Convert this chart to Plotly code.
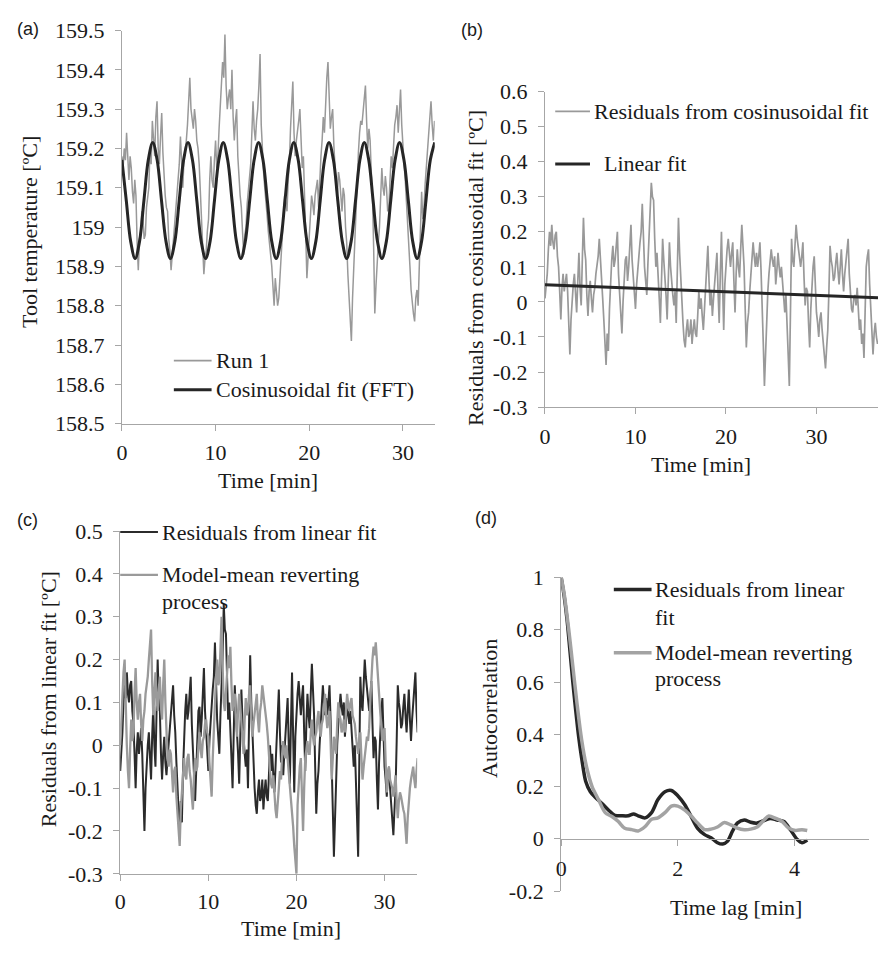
import plotly.graph_objects as go

W, H = 878, 954
SAMPLE_INTERVAL_MIN = 0.125

# ---------------- (a) Tool temperature, Run 1 and cosinusoidal fit ----------------
run1_temp = [
    159.18, 159.15, 159.20, 159.17, 159.24, 159.16, 159.12, 159.18, 159.15, 159.09, 159.06, 159.12, 159.08, 158.96, 158.89, 158.97,
    158.99, 159.04, 159.02, 158.97, 158.98, 159.05, 159.07, 159.10, 159.20, 159.16, 159.27, 159.21, 159.18, 159.28, 159.32, 159.20,
    159.16, 159.23, 159.29, 159.19, 159.13, 159.08, 159.05, 159.04, 158.97, 158.94, 158.89, 158.93, 158.96, 158.99, 159.04, 159.09,
    159.12, 159.16, 159.23, 159.14, 159.10, 159.17, 159.19, 159.22, 159.26, 159.31, 159.38, 159.30, 159.28, 159.25, 159.30, 159.27,
    159.22, 159.20, 159.16, 159.09, 159.03, 158.97, 158.88, 158.92, 158.94, 158.99, 159.02, 159.12, 159.18, 159.12, 159.10, 159.17,
    159.22, 159.15, 159.18, 159.25, 159.30, 159.36, 159.42, 159.38, 159.49, 159.36, 159.30, 159.33, 159.35, 159.30, 159.40, 159.28,
    159.22, 159.27, 159.30, 159.18, 159.12, 159.08, 159.05, 158.98, 158.93, 158.98, 159.00, 159.06, 159.10, 159.12, 159.16, 159.24,
    159.32, 159.25, 159.22, 159.27, 159.30, 159.36, 159.44, 159.26, 159.19, 159.14, 159.10, 159.07, 159.03, 158.99, 158.95, 158.93,
    158.90, 158.85, 158.80, 158.87, 158.84, 158.80, 158.82, 158.88, 158.92, 158.97, 159.03, 159.08, 159.06, 159.04, 159.12, 159.16,
    159.25, 159.30, 159.37, 159.24, 159.18, 159.22, 159.24, 159.27, 159.30, 159.20, 159.15, 159.18, 159.10, 158.98, 158.87, 158.92,
    158.95, 159.03, 159.08, 159.06, 159.03, 159.08, 159.10, 159.12, 159.05, 159.13, 159.18, 159.22, 159.28, 159.24, 159.33, 159.38,
    159.42, 159.30, 159.25, 159.28, 159.30, 159.21, 159.15, 159.10, 159.08, 159.14, 159.12, 159.07, 159.04, 159.10, 159.08, 159.00,
    158.96, 158.88, 158.82, 158.76, 158.71, 158.82, 158.90, 158.98, 159.05, 159.12, 159.19, 159.24, 159.27, 159.26, 159.30, 159.33,
    159.36, 159.27, 159.20, 159.25, 159.22, 159.14, 159.08, 158.95, 158.78, 158.85, 158.92, 158.96, 159.00, 159.08, 159.15, 159.10,
    159.08, 159.13, 159.10, 159.04, 159.05, 159.12, 159.18, 159.15, 159.22, 159.26, 159.28, 159.31, 159.24, 159.29, 159.35, 159.26,
    159.20, 159.16, 159.12, 159.07, 159.03, 158.97, 158.90, 158.84, 158.80, 158.78, 158.76, 158.82, 158.84, 158.80, 158.90, 159.01,
    159.09, 159.02, 159.05, 159.11, 159.15, 159.19, 159.23, 159.27, 159.32, 159.26, 159.22, 159.27, 159.26,
]
run1_time = [i * SAMPLE_INTERVAL_MIN for i in range(len(run1_temp))]

cosfit_time = [
    0.0, 0.47, 0.94, 1.41, 1.88, 2.35, 2.82, 3.29, 3.76, 4.23, 4.71, 5.18,
    5.65, 6.12, 6.59, 7.06, 7.53, 8.0, 8.47, 8.94, 9.41, 9.88, 10.35, 10.82,
    11.29, 11.76, 12.23, 12.7, 13.17, 13.64, 14.12, 14.59, 15.06, 15.53, 16.0, 16.47,
    16.94, 17.41, 17.88, 18.35, 18.82, 19.29, 19.76, 20.23, 20.7, 21.17, 21.64, 22.11,
    22.58, 23.05, 23.53, 24.0, 24.47, 24.94, 25.41, 25.88, 26.35, 26.82, 27.29, 27.76,
    28.23, 28.7, 29.17, 29.64, 30.11, 30.58, 31.05, 31.52, 31.99, 32.46, 32.93, 33.4,
]
cosfit_temp = [
    159.171, 159.067, 158.963, 158.92, 158.963, 159.067, 159.171, 159.215,
    159.171, 159.067, 158.963, 158.92, 158.963, 159.067, 159.171, 159.215,
    159.171, 159.067, 158.963, 158.92, 158.963, 159.067, 159.171, 159.215,
    159.171, 159.067, 158.963, 158.92, 158.963, 159.067, 159.171, 159.215,
    159.171, 159.067, 158.963, 158.92, 158.963, 159.067, 159.171, 159.215,
    159.171, 159.067, 158.963, 158.92, 158.963, 159.067, 159.171, 159.215,
    159.171, 159.067, 158.963, 158.92, 158.963, 159.067, 159.171, 159.215,
    159.171, 159.067, 158.963, 158.92, 158.963, 159.067, 159.171, 159.215,
    159.171, 159.067, 158.963, 158.92, 158.963, 159.067, 159.171, 159.215,
]

# ---------------- (b) Residuals from cosinusoidal fit + linear fit ----------------
resid_cos = [
    0.01, 0.05, 0.08, 0.15, 0.20, 0.16, 0.22, 0.17, 0.15, 0.19, 0.20, 0.13, 0.10, 0.03, -0.05, 0.04,
    0.08, 0.03, 0.06, 0.08, 0.03, -0.06, -0.15, -0.05, 0.01, 0.05, 0.08, 0.02, -0.03, 0.06, 0.14, 0.04,
    -0.01, 0.12, 0.24, 0.15, 0.12, 0.02, -0.04, 0.03, 0.06, 0.01, -0.03, 0.02, 0.04, 0.08, 0.10, 0.13,
    0.18, 0.11, 0.07, 0.01, -0.05, -0.10, -0.18, -0.09, -0.14, -0.02, 0.08, 0.12, 0.16, 0.10, 0.12, 0.17,
    0.20, 0.08, 0.01, -0.03, -0.09, 0.00, 0.08, 0.12, 0.13, 0.06, 0.10, 0.17, 0.22, 0.12, 0.08, 0.02,
    -0.02, 0.05, 0.08, 0.13, 0.17, 0.20, 0.28, 0.18, 0.10, 0.06, 0.02, 0.11, 0.18, 0.24, 0.34, 0.30,
    0.29, 0.18, 0.10, 0.14, 0.05, 0.01, -0.06, 0.08, 0.18, 0.12, 0.08, 0.02, -0.05, 0.08, 0.17, 0.10,
    0.05, 0.02, -0.01, 0.03, -0.06, 0.10, 0.24, 0.14, 0.06, -0.01, -0.06, -0.11, -0.13, -0.08, -0.05, -0.10,
    -0.09, -0.05, -0.12, -0.08, -0.05, -0.09, -0.10, -0.04, 0.03, -0.02, 0.01, -0.04, -0.08, -0.02, 0.04, 0.09,
    0.16, 0.06, -0.01, 0.03, -0.04, 0.01, 0.05, 0.09, 0.14, 0.03, -0.06, 0.08, 0.20, 0.05, -0.08, 0.05,
    0.12, 0.15, 0.18, 0.13, 0.10, 0.14, 0.17, 0.06, -0.03, 0.08, 0.15, 0.10, 0.07, 0.15, 0.22, 0.16,
    0.10, -0.02, -0.13, -0.06, -0.03, 0.03, 0.08, 0.12, 0.17, 0.13, 0.10, 0.14, 0.10, 0.13, 0.17, 0.09,
    0.01, -0.12, -0.24, -0.14, -0.03, 0.03, 0.08, 0.12, 0.15, 0.12, 0.10, 0.13, 0.05, 0.09, 0.14, 0.10,
    0.07, 0.10, 0.05, 0.01, -0.03, 0.02, -0.10, -0.15, -0.24, -0.02, 0.18, 0.12, 0.10, 0.16, 0.22, 0.18,
    0.15, 0.11, 0.10, 0.13, 0.17, 0.07, -0.01, 0.04, 0.03, -0.06, -0.13, -0.02, 0.06, 0.10, 0.13, 0.04,
    -0.03, -0.06, -0.10, -0.05, -0.03, -0.08, -0.12, -0.16, -0.19, -0.13, -0.08, 0.03, 0.16, 0.12, 0.10, 0.06,
    0.07, 0.11, 0.14, 0.09, 0.05, 0.10, 0.15, 0.08, 0.03, 0.08, 0.12, 0.15, 0.18, 0.08, 0.01, -0.02,
    -0.03, 0.01, 0.02, -0.01, 0.04, -0.03, -0.08, -0.05, -0.12, -0.09, -0.16, -0.03, 0.10, 0.13, 0.15, 0.05,
    -0.03, -0.10, -0.15, -0.09, -0.06, -0.10, -0.12,
]
resid_cos_time = [i * SAMPLE_INTERVAL_MIN for i in range(len(resid_cos))]
linfit_time = [0.0, 36.8]
linfit_val = [0.049, 0.012]

# ---------------- (c) Residuals from linear fit + mean-reverting model ----------------
resid_lin = [
    -0.06, -0.02, 0.03, 0.10, 0.15, 0.11, 0.17, 0.12, 0.10, 0.14, 0.15, 0.08, 0.05, -0.02, -0.10, -0.01,
    0.03, -0.02, 0.01, 0.04, -0.02, -0.11, -0.20, -0.10, -0.04, 0.00, 0.03, -0.03, -0.08, 0.02, 0.09, 0.00,
    -0.05, 0.08, 0.20, 0.11, 0.08, -0.02, -0.08, -0.02, 0.02, -0.04, -0.07, -0.03, 0.00, 0.04, 0.06, 0.09,
    0.14, 0.07, 0.03, -0.04, -0.09, -0.14, -0.21, -0.13, -0.18, -0.06, 0.04, 0.08, 0.12, 0.06, 0.08, 0.13,
    0.16, 0.05, -0.03, -0.07, -0.13, -0.04, 0.04, 0.08, 0.09, 0.02, 0.06, 0.13, 0.18, 0.08, 0.04, -0.02,
    -0.06, 0.01, 0.04, 0.09, 0.13, 0.16, 0.24, 0.14, 0.06, 0.02, -0.02, 0.07, 0.14, 0.21, 0.33, 0.27,
    0.26, 0.14, 0.06, 0.10, 0.01, -0.03, -0.10, 0.04, 0.14, 0.08, 0.04, -0.02, -0.09, 0.04, 0.13, 0.06,
    0.01, -0.02, -0.05, -0.01, -0.10, 0.06, 0.21, 0.10, 0.02, -0.05, -0.10, -0.14, -0.16, -0.11, -0.08, -0.13,
    -0.12, -0.08, -0.15, -0.11, -0.08, -0.12, -0.13, -0.07, 0.00, -0.06, -0.02, -0.07, -0.11, -0.05, 0.01, 0.06,
    0.13, 0.03, -0.04, 0.00, -0.07, -0.02, 0.02, 0.06, 0.11, 0.00, -0.09, 0.05, 0.17, 0.02, -0.11, 0.02,
    0.09, 0.12, 0.15, 0.10, 0.07, 0.11, 0.14, 0.03, -0.06, 0.05, 0.12, 0.07, 0.04, 0.12, 0.19, 0.13,
    0.07, -0.05, -0.16, -0.09, -0.06, 0.00, 0.05, 0.09, 0.14, 0.10, 0.07, 0.11, 0.07, 0.10, 0.14, 0.06,
    -0.02, -0.15, -0.26, -0.16, -0.06, 0.00, 0.05, 0.09, 0.12, 0.09, 0.07, 0.10, 0.02, 0.06, 0.11, 0.07,
    0.05, 0.08, 0.03, -0.01, -0.05, 0.00, -0.12, -0.17, -0.26, -0.04, 0.16, 0.10, 0.08, 0.14, 0.20, 0.16,
    0.13, 0.09, 0.08, 0.11, 0.15, 0.05, -0.03, 0.02, 0.01, -0.08, -0.15, -0.04, 0.04, 0.08, 0.11, 0.02,
    -0.05, -0.08, -0.12, -0.07, -0.05, -0.10, -0.14, -0.18, -0.21, -0.15, -0.10, 0.01, 0.14, 0.10, 0.08, 0.04,
    0.05, 0.09, 0.12, 0.07, 0.03, 0.08, 0.13, 0.06, 0.01, 0.06, 0.10, 0.13, 0.17, 0.08, 0.03,
]
model_mr = [
    0.00, 0.07, 0.12, 0.17, 0.20, 0.08, 0.00, -0.06, -0.10, -0.01, 0.06, 0.01, 0.03, 0.12, 0.18, 0.10,
    0.06, 0.10, 0.12, 0.05, 0.01, 0.06, 0.08, 0.12, 0.14, 0.16, 0.20, 0.23, 0.27, 0.15, 0.07, 0.12,
    0.17, 0.11, 0.08, 0.13, 0.16, 0.09, 0.06, 0.14, 0.20, 0.10, 0.02, -0.03, -0.05, -0.01, -0.02, -0.08,
    -0.11, -0.06, -0.05, -0.12, -0.16, -0.19, -0.235, -0.15, -0.10, -0.05, -0.03, -0.07, -0.08, -0.03, -0.02, -0.06,
    -0.08, -0.12, -0.15, -0.07, -0.03, -0.06, -0.05, 0.00, 0.03, -0.01, -0.03, 0.01, 0.02, 0.05, 0.06, 0.03,
    0.02, -0.04, -0.08, -0.12, -0.03, 0.05, 0.12, 0.16, 0.20, 0.14, 0.15, 0.24, 0.30, 0.18, 0.10, 0.08,
    0.12, 0.17, 0.21, 0.18, 0.23, 0.14, 0.08, 0.11, 0.12, 0.06, 0.02, 0.08, 0.12, 0.09, 0.06, 0.01,
    -0.02, 0.06, 0.11, 0.07, 0.08, 0.12, 0.14, 0.06, 0.02, 0.05, 0.07, 0.10, 0.12, 0.06, 0.03, 0.08,
    0.10, 0.14, 0.12, 0.09, 0.08, 0.05, 0.02, -0.03, -0.06, -0.09, -0.10, -0.07, -0.12, -0.15, -0.17, -0.12,
    -0.10, -0.06, -0.08, -0.02, 0.01, -0.02, -0.03, 0.00, -0.03, -0.07, -0.11, -0.12, -0.16, -0.19, -0.235, -0.26,
    -0.30, -0.14, -0.08, -0.05, -0.03, -0.12, -0.20, -0.10, -0.03, -0.01, 0.01, -0.02, -0.02, 0.03, 0.06, 0.02,
    0.00, 0.02, 0.03, 0.06, 0.08, 0.04, 0.02, 0.05, 0.06, 0.09, 0.12, 0.07, 0.04, 0.06, 0.08, 0.01,
    -0.08, -0.03, 0.02, 0.00, -0.02, 0.05, 0.10, 0.07, 0.06, 0.03, 0.04, 0.06, 0.03, 0.08, 0.12, 0.09,
    0.08, 0.10, 0.11, 0.07, 0.06, 0.05, 0.02, -0.01, -0.02, 0.01, 0.03, -0.03, -0.08, -0.05, -0.03, 0.00,
    0.02, 0.01, 0.04, 0.10, 0.16, 0.20, 0.23, 0.21, 0.24, 0.19, 0.16, 0.12, 0.08, 0.04, 0.01, 0.03,
    0.04, -0.04, -0.11, -0.07, -0.05, -0.08, -0.09, -0.10, -0.12, -0.09, -0.07, -0.13, -0.17, -0.13, -0.11, -0.12,
    -0.14, -0.15, -0.16, -0.20, -0.23, -0.17, -0.12, -0.10, -0.08, -0.06, -0.05, -0.08, -0.10, -0.06, -0.03,
]
resid_lin_time = [i * SAMPLE_INTERVAL_MIN for i in range(len(resid_lin))]
model_mr_time = [i * SAMPLE_INTERVAL_MIN for i in range(len(model_mr))]

# ---------------- (d) Autocorrelation ----------------
acf_resid_lag = [0, 0.05, 0.1, 0.15, 0.2, 0.25, 0.3, 0.35, 0.42, 0.5, 0.58, 0.7, 0.81, 0.92,
                 1.04, 1.15, 1.24, 1.32, 1.44, 1.55, 1.66, 1.78, 1.89, 2.0, 2.12, 2.23, 2.34,
                 2.46, 2.57, 2.68, 2.77, 2.85, 2.94, 3.02, 3.14, 3.25, 3.36, 3.48, 3.59, 3.70,
                 3.82, 3.93, 4.05, 4.13, 4.22]
acf_resid = [1.0, 0.93, 0.84, 0.72, 0.6, 0.49, 0.39, 0.31, 0.22, 0.18, 0.16, 0.135, 0.11, 0.09,
             0.088, 0.088, 0.095, 0.088, 0.08, 0.10, 0.15, 0.18, 0.185, 0.165, 0.13, 0.085, 0.04,
             0.016, 0.004, -0.015, -0.02, -0.01, 0.03, 0.06, 0.072, 0.063, 0.06, 0.07, 0.078, 0.072,
             0.066, 0.035, -0.003, -0.015, -0.005]
acf_model_lag = [0, 0.05, 0.13, 0.2, 0.27, 0.35, 0.44, 0.53, 0.64, 0.755, 0.87, 0.98, 1.09, 1.21,
                 1.32, 1.44, 1.55, 1.66, 1.78, 1.89, 2.0, 2.12, 2.23, 2.34, 2.46, 2.57, 2.68, 2.8,
                 2.91, 3.02, 3.14, 3.25, 3.36, 3.48, 3.56, 3.68, 3.79, 3.9, 4.02, 4.13, 4.22]
acf_model = [1.0, 0.94, 0.80, 0.66, 0.52, 0.38, 0.27, 0.2, 0.15, 0.10, 0.085, 0.066, 0.04, 0.035,
             0.03, 0.047, 0.075, 0.08, 0.1, 0.125, 0.125, 0.11, 0.087, 0.06, 0.035, 0.037, 0.045,
             0.062, 0.053, 0.041, 0.035, 0.037, 0.045, 0.072, 0.087, 0.078, 0.066, 0.041, 0.032,
             0.035, 0.032]

# ---------------- tick labels ----------------
a_yticks = [158.5, 158.6, 158.7, 158.8, 158.9, 159.0, 159.1, 159.2, 159.3, 159.4, 159.5]
a_yticktext = ["158.5", "158.6", "158.7", "158.8", "158.9", "159", "159.1", "159.2", "159.3", "159.4", "159.5"]
time_ticks = [0, 10, 20, 30]
time_ticktext = ["0", "10", "20", "30"]
b_yticks = [-0.3, -0.2, -0.1, 0, 0.1, 0.2, 0.3, 0.4, 0.5, 0.6]
b_yticktext = ["-0.3", "-0.2", "-0.1", "0", "0.1", "0.2", "0.3", "0.4", "0.5", "0.6"]
c_yticks = [-0.3, -0.2, -0.1, 0, 0.1, 0.2, 0.3, 0.4, 0.5]
c_yticktext = ["-0.3", "-0.2", "-0.1", "0", "0.1", "0.2", "0.3", "0.4", "0.5"]
d_yticks = [-0.2, 0, 0.2, 0.4, 0.6, 0.8, 1.0]
d_yticktext = ["-0.2", "0", "0.2", "0.4", "0.6", "0.8", "1"]
d_xticks = [0, 2, 4]
d_xticktext = ["0", "2", "4"]

# ---------------- styling ----------------
SERIF = "Liberation Serif"
SANS = "Liberation Sans"
FS = 22
TXT = "#1a1a1a"
AXC = "#a6a6a6"
DARK = "#262626"
GREY = "#999999"


def px_x(x):
    return x / W


def px_y(y):
    return 1 - y / H


fig = go.Figure()

# (a)
fig.add_trace(go.Scatter(x=run1_time, y=run1_temp, mode="lines", line=dict(color=GREY, width=1.5),
                         xaxis="x", yaxis="y"))
fig.add_trace(go.Scatter(x=cosfit_time, y=cosfit_temp, mode="lines",
                         line=dict(color=DARK, width=3, shape="spline", smoothing=1.0), xaxis="x", yaxis="y"))
# (b)
fig.add_trace(go.Scatter(x=resid_cos_time, y=resid_cos, mode="lines", line=dict(color=GREY, width=1.7),
                         xaxis="x2", yaxis="y2"))
fig.add_trace(go.Scatter(x=linfit_time, y=linfit_val, mode="lines", line=dict(color=DARK, width=3),
                         xaxis="x2", yaxis="y2"))
# (c)
fig.add_trace(go.Scatter(x=resid_lin_time, y=resid_lin, mode="lines", line=dict(color="#2b2b2b", width=2),
                         xaxis="x3", yaxis="y3"))
fig.add_trace(go.Scatter(x=model_mr_time, y=model_mr, mode="lines", line=dict(color="#9a9a9a", width=2.3),
                         xaxis="x3", yaxis="y3"))
# (d)
fig.add_trace(go.Scatter(x=acf_resid_lag, y=acf_resid, mode="lines",
                         line=dict(color=DARK, width=3.5, shape="spline", smoothing=0.8), xaxis="x4", yaxis="y4"))
fig.add_trace(go.Scatter(x=acf_model_lag, y=acf_model, mode="lines",
                         line=dict(color="#a3a3a3", width=3.5, shape="spline", smoothing=0.8), xaxis="x4", yaxis="y4"))

axis_common = dict(showgrid=False, zeroline=False, showline=True, linecolor=AXC, linewidth=1.2,
                   ticks="outside", tickcolor=AXC, ticklen=6, tickwidth=1.2,
                   tickfont=dict(family=SERIF, size=FS, color=TXT), fixedrange=True)

fig.update_layout(
    width=W, height=H, margin=dict(l=0, r=0, t=0, b=0),
    paper_bgcolor="white", plot_bgcolor="white", showlegend=False,
    xaxis=dict(domain=[px_x(116.7), px_x(431.7)], range=[0, 33.4], anchor="y",
               tickvals=time_ticks, ticktext=time_ticktext, ticklabelstandoff=3, **axis_common),
    yaxis=dict(domain=[px_y(422.7), px_y(19)], range=[158.5, 159.5], anchor="x",
               tickvals=a_yticks, ticktext=a_yticktext, ticklabelstandoff=6, **axis_common),
    xaxis2=dict(domain=[px_x(542.7), 1.0], range=[0, 36.8], anchor="y2",
                tickvals=time_ticks, ticktext=time_ticktext, ticklabelstandoff=3, **axis_common),
    yaxis2=dict(domain=[px_y(405.7), px_y(81.7)], range=[-0.3, 0.6], anchor="x2",
                tickvals=b_yticks, ticktext=b_yticktext, ticklabelstandoff=6, **axis_common),
    xaxis3=dict(domain=[px_x(115), px_x(414)], range=[0, 33.7], anchor="y3",
                tickvals=time_ticks, ticktext=time_ticktext, ticklabelstandoff=2, **axis_common),
    yaxis3=dict(domain=[px_y(885), px_y(533)], range=[-0.3, 0.5], anchor="x3",
                tickvals=c_yticks, ticktext=c_yticktext, ticklabelstandoff=6, **axis_common),
    xaxis4=dict(domain=[px_x(559), px_x(869)], range=[0, 5.28], anchor="free", position=px_y(849.3),
                tickvals=d_xticks, ticktext=d_xticktext, ticklabelstandoff=3, **axis_common),
    yaxis4=dict(domain=[px_y(902.7), px_y(580.7)], range=[-0.2, 1.0], anchor="x4",
                tickvals=d_yticks, ticktext=d_yticktext, ticklabelstandoff=6, **axis_common),
)

annotations = []
shapes = []


def label(text, x, y, angle=0, size=FS, family=SERIF, anchor="center"):
    annotations.append(dict(text=text, x=px_x(x), y=px_y(y), xref="paper", yref="paper",
                            showarrow=False, textangle=angle, xanchor=anchor, yanchor="middle",
                            font=dict(family=family, size=size, color=TXT)))


def legend_line(x0, x1, y, color, width):
    shapes.append(dict(type="line", xref="paper", yref="paper", x0=px_x(x0), x1=px_x(x1),
                       y0=px_y(y), y1=px_y(y), line=dict(color=color, width=width)))


# panel letters
label("(a)", 22, 17, size=18, family=SANS)
label("(b)", 469, 18, size=18, family=SANS)
label("(c)", 22, 522, size=18, family=SANS)
label("(d)", 483, 520, size=18, family=SANS)

# axis titles
label("Tool temperature [ºC]", 23, 226, angle=-90)
label("Time [min]", 264, 481)
label("Residuals from cosinusoidal fit [ºC]", 472, 263, angle=-90)
label("Time [min]", 700, 465)
label("Residuals from linear fit [ºC]", 43, 706, angle=-90)
label("Time [min]", 287, 941)
label("Autocorrelation", 487, 715, angle=-90)
label("Time lag [min]", 735, 920)

# legends (a)
legend_line(169, 207, 358, GREY, 1.6)
label("Run 1", 209, 358, anchor="left")
legend_line(169, 207, 388, DARK, 3)
label("Cosinusoidal fit (FFT)", 209, 388, anchor="left")
# legends (b)
legend_line(553, 588, 102, GREY, 1.8)
label("Residuals from cosinusoidal fit", 590, 102, anchor="left")
legend_line(553, 588, 156, DARK, 3)
label("Linear fit", 600, 156, anchor="left")
# legends (c)
legend_line(115, 153, 534, "#2b2b2b", 2)
label("Residuals from linear fit", 155, 534, anchor="left")
legend_line(115, 153, 578, "#9a9a9a", 2.4)
label("Model-mean reverting", 155, 578, anchor="left")
label("process", 155, 605, anchor="left")
# legends (d)
legend_line(612, 650, 593, DARK, 3.5)
label("Residuals from linear", 651, 593, anchor="left")
label("fit", 651, 622, anchor="left")
legend_line(612, 650, 658, "#a3a3a3", 3.5)
label("Model-mean reverting", 651, 658, anchor="left")
label("process", 651, 684, anchor="left")

fig.update_layout(annotations=annotations, shapes=shapes)
fig.write_html("out.html")
